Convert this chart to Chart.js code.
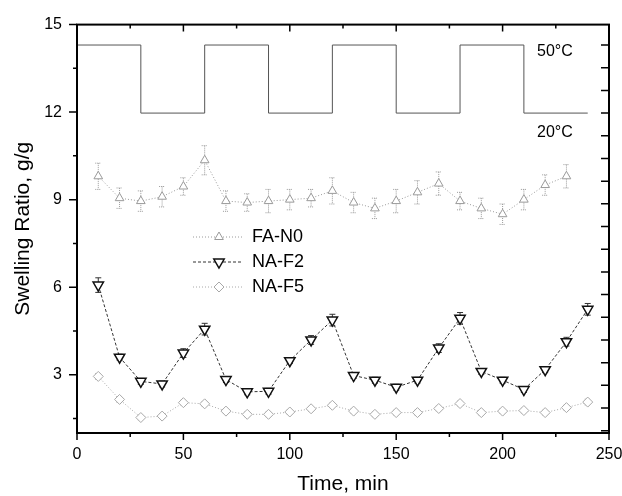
<!DOCTYPE html>
<html>
<head>
<meta charset="utf-8">
<script src="https://cdn.jsdelivr.net/npm/chart.js@4"></script>
<style>
  html, body { margin: 0; padding: 0; background: #fff; }
  #wrap { width: 622px; height: 496px; }
</style>
</head>
<body>
<div id="wrap"><canvas id="swellChart"></canvas></div>
<script>
// time points (min)
const times = [10, 20, 30, 40, 50, 60, 70, 80, 90, 100, 110, 120,
               130, 140, 150, 160, 170, 180, 190, 200, 210, 220, 230, 240];

// swelling ratio, g/g
const faN0 = [9.8, 9.05, 8.95, 9.1, 9.45, 10.35, 8.95, 8.9, 8.95, 9.0, 9.05, 9.3,
              8.9, 8.7, 8.95, 9.25, 9.55, 8.95, 8.7, 8.5, 9.0, 9.5, 9.8];
const faN0Err = [0.45, 0.35, 0.35, 0.35, 0.3, 0.5, 0.35, 0.3, 0.4, 0.35, 0.3, 0.45,
                 0.35, 0.35, 0.4, 0.4, 0.4, 0.3, 0.35, 0.35, 0.35, 0.35, 0.4];

const naF2 = [6.07, 3.6, 2.77, 2.68, 3.74, 4.56, 2.83, 2.41, 2.43, 3.48, 4.19, 4.87,
              2.97, 2.81, 2.57, 2.81, 3.91, 4.93, 3.11, 2.81, 2.49, 3.17, 4.13, 5.24];
const naF2Err = [0.25, 0.1, 0.1, 0.1, 0.15, 0.2, 0.1, 0.1, 0.1, 0.1, 0.15, 0.2,
                 0.1, 0.1, 0.1, 0.1, 0.15, 0.2, 0.1, 0.1, 0.1, 0.1, 0.15, 0.2];

const naF5 = [2.94, 2.15, 1.53, 1.58, 2.04, 2.0, 1.75, 1.64, 1.64, 1.72, 1.83, 1.95,
              1.75, 1.64, 1.7, 1.7, 1.84, 2.01, 1.7, 1.75, 1.77, 1.7, 1.87, 2.06];
const naF5Err = [0.1, 0.1, 0.08, 0.08, 0.08, 0.08, 0.08, 0.08, 0.08, 0.08, 0.08, 0.08,
                 0.08, 0.08, 0.08, 0.08, 0.08, 0.08, 0.08, 0.08, 0.08, 0.08, 0.08, 0.1];

// temperature program (right axis, °C), stepped
const tempTimes = [0, 30, 60, 90, 120, 150, 180, 210, 240];
const tempC = [50, 20, 50, 20, 50, 20, 50, 20, 20];

// tick values
const yTicks = [3, 6, 9, 12, 15];
const yMinor = [1.5, 4.5, 7.5, 10.5, 13.5];
const xTicks = [0, 50, 100, 150, 200, 250];
const xMinor = [25, 75, 125, 175, 225];
const tempTicks = [50, 40, 30, 20, 10, 0, -10, -20, -30, -40, -50, -60, -70, -80, -90, -100, -110, -120];

const FONT = "'Liberation Sans', Arial, sans-serif";

function pts(xs, ys) {
    return ys.map((y, i) => ({ x: xs[i], y: y }));
}

const errors = [faN0Err, naF2Err, naF5Err];

// error bars under the markers
const errorBars = {
    id: "errorBars",
    beforeDatasetsDraw(chart) {
        const ctx = chart.ctx;
        const x = chart.scales.x;
        const y = chart.scales.y;
        ctx.save();
        errors.forEach((err, di) => {
            const ds = chart.data.datasets[di];
            ctx.strokeStyle = ds.borderColor;
            ctx.lineWidth = 1;
            ctx.setLineDash(di === 1 ? [] : [1, 1]);
            ds.data.forEach((p, i) => {
                const px = x.getPixelForValue(p.x);
                const top = y.getPixelForValue(p.y + err[i]);
                const bot = y.getPixelForValue(p.y - err[i]);
                ctx.beginPath();
                ctx.moveTo(px, top); ctx.lineTo(px, bot);
                ctx.moveTo(px - 3, top); ctx.lineTo(px + 3, top);
                ctx.moveTo(px - 3, bot); ctx.lineTo(px + 3, bot);
                ctx.stroke();
            });
        });
        ctx.restore();
    }
};

// Origin-like frame: outward ticks left/bottom, inward ticks top/right
const frame = {
    id: "frame",
    afterDraw(chart) {
        const ctx = chart.ctx;
        const a = chart.chartArea;
        const x = chart.scales.x;
        const y = chart.scales.y;
        const t = chart.scales.y2;
        ctx.save();
        ctx.strokeStyle = "#000";
        ctx.lineWidth = 1.5;
        ctx.beginPath();
        yTicks.forEach(v => {
            const py = y.getPixelForValue(v);
            ctx.moveTo(a.left - 8, py); ctx.lineTo(a.left, py);
        });
        yMinor.forEach(v => {
            const py = y.getPixelForValue(v);
            ctx.moveTo(a.left - 4, py); ctx.lineTo(a.left, py);
        });
        xTicks.forEach(v => {
            const px = x.getPixelForValue(v);
            ctx.moveTo(px, a.bottom); ctx.lineTo(px, a.bottom + 7);
            ctx.moveTo(px, a.top); ctx.lineTo(px, a.top + 7);
        });
        xMinor.forEach(v => {
            const px = x.getPixelForValue(v);
            ctx.moveTo(px, a.bottom); ctx.lineTo(px, a.bottom + 4);
            ctx.moveTo(px, a.top); ctx.lineTo(px, a.top + 4);
        });
        tempTicks.forEach(v => {
            const py = t.getPixelForValue(v);
            ctx.moveTo(a.right - 8, py); ctx.lineTo(a.right, py);
        });
        ctx.stroke();
        ctx.lineWidth = 2;
        ctx.strokeRect(a.left, a.top, a.right - a.left, a.bottom - a.top);

        // temperature labels
        ctx.fillStyle = "#000";
        ctx.font = "16px " + FONT;
        ctx.textBaseline = "middle";
        ctx.textAlign = "left";
        ctx.fillText("50°C", 537, 52);
        ctx.fillText("20°C", 537, 133);

        // legend
        ctx.font = "18px " + FONT;
        [0, 1, 2].forEach(i => {
            const ds = chart.data.datasets[i];
            const ly = 237 + i * 25;
            ctx.strokeStyle = ds.borderColor;
            ctx.lineWidth = 1;
            ctx.setLineDash(ds.borderDash || []);
            ctx.beginPath();
            ctx.moveTo(193, ly); ctx.lineTo(242, ly);
            ctx.stroke();
            ctx.setLineDash([]);
            ctx.fillStyle = "#fff";
            ctx.strokeStyle = ds.pointBorderColor || ds.borderColor;
            ctx.lineWidth = ds.pointBorderWidth;
            Chart.helpers.drawPoint(ctx, {
                pointStyle: ds.pointStyle,
                rotation: ds.pointRotation || 0,
                radius: ds.pointRadius,
                borderWidth: ds.pointBorderWidth
            }, 219, ly);
            ctx.fillStyle = "#000";
            ctx.fillText(ds.label, 252, ly);
        });
        ctx.restore();
    }
};

new Chart(document.getElementById("swellChart"), {
    type: "line",
    data: {
        datasets: [{
            label: "FA-N0",
            data: pts(times, faN0),
            borderColor: "#9a9a9a",
            borderWidth: 1,
            borderDash: [1, 2],
            pointStyle: "triangle",
            pointRadius: 5,
            pointBorderWidth: 1,
            pointBackgroundColor: "#fff",
            yAxisID: "y"
        }, {
            label: "NA-F2",
            data: pts(times, naF2),
            borderColor: "#333",
            borderWidth: 1,
            borderDash: [3, 2],
            pointStyle: "triangle",
            pointRotation: 180,
            pointRadius: 6,
            pointBorderWidth: 1.5,
            pointBorderColor: "#111",
            pointBackgroundColor: "#fff",
            yAxisID: "y"
        }, {
            label: "NA-F5",
            data: pts(times, naF5),
            borderColor: "#a8a8a8",
            borderWidth: 1,
            borderDash: [1, 2],
            pointStyle: "rectRot",
            pointRadius: 5,
            pointBorderWidth: 1,
            pointBackgroundColor: "#fff",
            yAxisID: "y"
        }, {
            label: "Temperature",
            data: pts(tempTimes, tempC),
            borderColor: "#555",
            borderWidth: 1,
            stepped: "before",
            pointRadius: 0,
            yAxisID: "y2"
        }]
    },
    options: {
        responsive: true,
        maintainAspectRatio: false,
        animation: false,
        layout: {
            padding: { left: 0, top: 23, right: 13, bottom: 0 }
        },
        plugins: {
            legend: { display: false },
            tooltip: { enabled: false }
        },
        scales: {
            x: {
                type: "linear",
                min: 0,
                max: 250,
                afterFit: s => { s.height = 63; s.paddingLeft = 0; s.paddingRight = 0; },
                afterBuildTicks: s => { s.ticks = xTicks.map(v => ({ value: v })); },
                grid: { display: false, drawTicks: false },
                border: { display: false },
                ticks: {
                    padding: 12,
                    color: "#000",
                    font: { family: FONT, size: 16 }
                },
                title: {
                    display: true,
                    text: "Time, min",
                    color: "#000",
                    padding: { top: 0, bottom: -1 },
                    font: { family: FONT, size: 21 }
                }
            },
            y: {
                min: 1,
                max: 15,
                afterFit: s => { s.width = 77; },
                afterBuildTicks: s => { s.ticks = yTicks.map(v => ({ value: v })); },
                grid: { display: false, drawTicks: false },
                border: { display: false },
                ticks: {
                    padding: 15,
                    color: "#000",
                    font: { family: FONT, size: 16 }
                },
                title: {
                    display: true,
                    text: "Swelling Ratio, g/g",
                    color: "#000",
                    padding: { top: 11, bottom: 11 },
                    font: { family: FONT, size: 21 }
                }
            },
            y2: {
                display: false,
                position: "right",
                min: -121,
                max: 59
            }
        }
    },
    plugins: [errorBars, frame]
});
</script>
</body>
</html>
